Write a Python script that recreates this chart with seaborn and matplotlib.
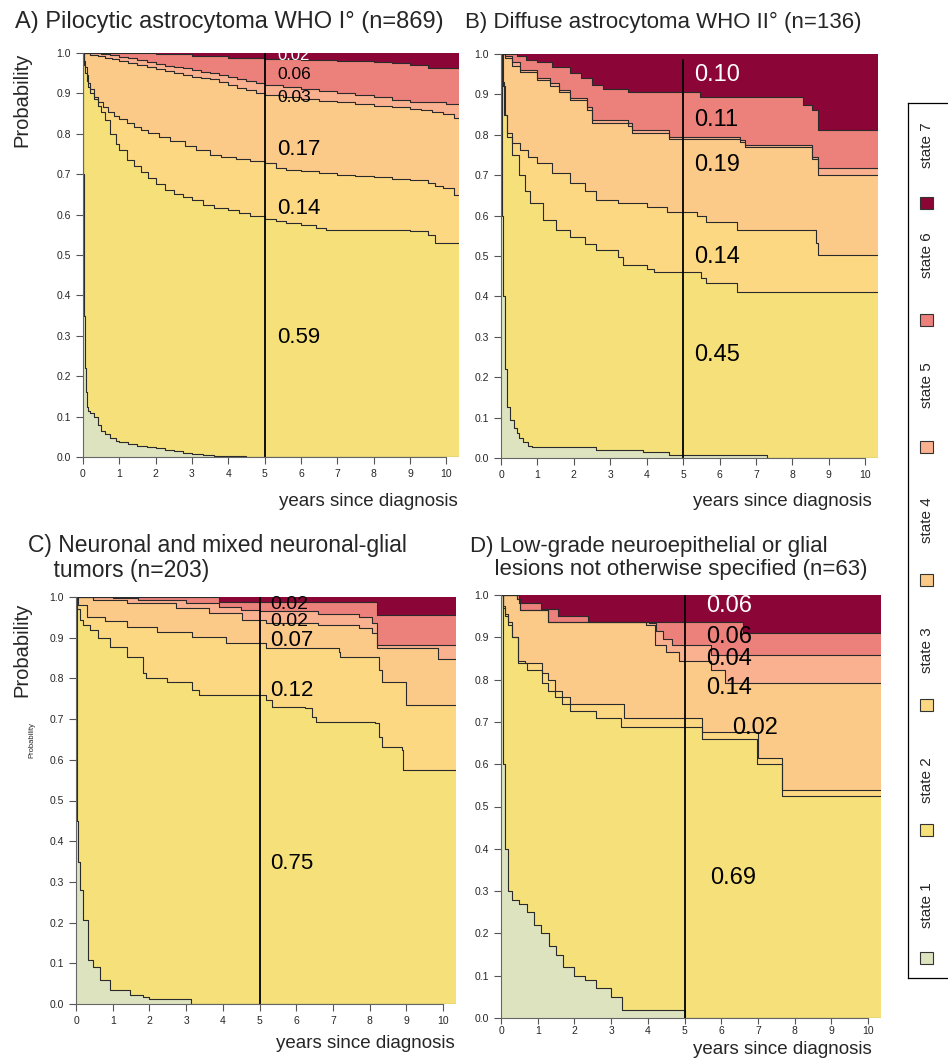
import numpy as np
import matplotlib
matplotlib.use("Agg")
import matplotlib.pyplot as plt
import seaborn as sns
from matplotlib.patches import Rectangle

# cumulative tops of states 1..6 (step functions, value holds until next time)
# panel A: Pilocytic astrocytoma
A_t1 = [0, .01, .02, .03, .05, .07, .1, .15, .2, .3, .4, .5, .6, .75, .9, 1, 1.25, 1.5, 1.75, 2, 2.25, 2.5, 2.75, 3, 3.3, 3.6, 4, 4.5, 5.6]
A_y1 = [1, .7, .5, .35, .22, .16, .125, .115, .108, .098, .08, .065, .056, .048, .04, .037, .032, .028, .025, .022, .018, .014, .011, .008, .005, .003, .002, .001, 0]
A_t2 = [0, .03, .06, .1, .15, .2, .3, .4, .5, .6, .75, .9, 1.0, 1.2, 1.4, 1.6, 1.8, 2.0, 2.25, 2.5, 2.75, 3.0, 3.3, 3.6, 4.0, 4.3, 4.6, 5.0, 5.3, 5.6, 6.0, 6.4, 6.7, 9.0, 9.5, 9.7]
A_y2 = [1, .97, .95, .93, .916, .9, .885, .87, .855, .835, .8, .775, .76, .735, .72, .705, .69, .675, .662, .652, .644, .635, .624, .617, .611, .603, .596, .589, .585, .58, .575, .568, .562, .56, .549, .53]
A_t3 = [0, .03, .06, .1, .14, .2, .3, .4, .55, .7, .85, 1.0, 1.2, 1.4, 1.6, 1.8, 2.1, 2.4, 2.8, 3.1, 3.5, 3.8, 4.2, 4.6, 5.0, 5.3, 5.6, 6.0, 6.5, 7.0, 7.5, 8.0, 8.5, 9.0, 9.5, 9.7, 9.9, 10.2]
A_y3 = [1, .98, .965, .945, .926, .91, .89, .878, .866, .855, .845, .836, .827, .818, .81, .801, .792, .782, .77, .76, .748, .742, .738, .733, .727, .715, .711, .708, .703, .698, .695, .692, .689, .686, .678, .672, .665, .648]
A_t4 = [0, .2, .4, .6, .8, 1, 1.25, 1.5, 1.75, 2, 2.25, 2.5, 2.75, 3, 3.25, 3.5, 3.75, 4, 4.25, 4.5, 4.75, 5, 5.5, 6, 6.5, 7, 7.5, 8, 8.5, 9, 9.3, 9.6, 9.9, 10.2]
A_y4 = [1, .996, .992, .988, .984, .98, .975, .97, .965, .96, .955, .95, .945, .94, .937, .935, .928, .92, .914, .908, .902, .896, .89, .885, .881, .878, .874, .87, .866, .862, .858, .854, .848, .84]
A_t5 = [0, .5, .75, 1, 1.25, 1.5, 1.75, 2, 2.25, 2.5, 2.75, 3, 3.25, 3.5, 3.75, 4, 4.25, 4.5, 4.75, 5, 5.5, 6, 6.5, 7, 7.5, 8, 8.5, 9, 10]
A_y5 = [1, .997, .994, .99, .987, .983, .978, .973, .969, .965, .962, .958, .954, .95, .945, .94, .935, .93, .926, .921, .915, .91, .905, .9, .895, .89, .884, .878, .874]
A_t6 = [0, 1, 2, 3, 4, 5, 6, 7, 8, 8.5, 9, 9.5]
A_y6 = [1, .999, .997, .993, .988, .984, .982, .98, .977, .975, .97, .963]

# panel B: Diffuse astrocytoma
B_t1 = [0, .02, .05, .1, .16, .25, .35, .43, .5, .6, .75, .85, 2.6, 3.9, 4.6, 7.3]
B_y1 = [1, .6, .4, .22, .126, .094, .075, .062, .05, .04, .03, .027, .02, .015, .0075, 0]
B_t2 = [0, .03, .08, .16, .3, .5, .65, .8, 1.15, 1.5, 1.9, 2.3, 2.6, 3.2, 3.35, 4.0, 4.2, 5.5, 5.64, 6.47]
B_y2 = [1, .93, .85, .795, .75, .7, .66, .631, .589, .565, .547, .53, .515, .498, .477, .469, .461, .445, .433, .411]
B_t3 = [0, .05, .1, .16, .3, .52, .75, 1.0, 1.4, 1.9, 2.3, 2.6, 3.2, 4.0, 4.55, 5.37, 5.64, 6.47, 8.55, 8.66, 8.7]
B_y3 = [1, .92, .85, .804, .78, .762, .745, .73, .705, .681, .66, .639, .63, .621, .609, .599, .585, .564, .564, .532, .502]
B_t4 = [0, .1, .3, .52, 1, 1.34, 1.6, 1.9, 2.35, 2.5, 3.5, 3.6, 4.6, 6.55, 6.7, 8.55, 8.7]
B_y4 = [1, .99, .97, .955, .935, .922, .905, .885, .862, .83, .822, .805, .79, .782, .77, .74, .70]
B_t5 = [0, .1, .3, .52, 1, 1.34, 1.6, 1.9, 2.35, 2.5, 3.5, 3.6, 4.6, 6.55, 6.7, 8.55, 8.7]
B_y5 = [1, .995, .98, .96, .94, .928, .91, .891, .869, .837, .829, .812, .795, .787, .775, .745, .718]
B_t6 = [0, .43, .7, 1.0, 1.4, 1.9, 2.2, 2.5, 2.8, 3.5, 5.45, 8.3, 8.55, 8.7]
B_y6 = [1, .995, .985, .98, .968, .953, .94, .923, .913, .906, .894, .874, .861, .812]

# panel C: Neuronal and mixed neuronal-glial tumors
C_t1 = [0, .02, .05, .1, .2, .33, .46, .65, .92, 1.46, 1.82, 2.0, 3.14]
C_y1 = [1, .45, .35, .28, .206, .108, .091, .059, .034, .022, .017, .012, 0]
C_t2 = [0, .03, .1, .2, .38, .6, .92, 1.38, 1.82, 1.92, 2.47, 3.17, 3.36, 5.18, 5.35, 6.25, 6.43, 6.53, 8.15, 8.24, 8.33, 8.87, 8.92]
C_y2 = [1, .97, .943, .93, .919, .9, .877, .853, .813, .8, .791, .771, .759, .747, .73, .727, .705, .693, .69, .656, .631, .624, .575]
C_t3 = [0, .05, .3, .8, 1.38, 2.2, 3.17, 4.08, 5.18, 7.15, 7.2, 8.24, 8.33, 9.0]
C_y3 = [1, .98, .95, .94, .926, .915, .902, .887, .875, .865, .853, .821, .791, .735]
C_t4 = [0, .46, 1.38, 2.73, 3.63, 4.53, 5.18, 6.6, 7.7, 8.05, 8.2, 9.86]
C_y4 = [1, .993, .985, .973, .961, .943, .936, .931, .925, .911, .875, .848]
C_t5 = [0, 1.0, 1.7, 3.0, 3.9, 4.5, 5.0, 6.6, 7.7, 8.05, 8.2]
C_y5 = [1, .998, .993, .985, .975, .968, .965, .958, .95, .935, .882]
C_t6 = [0, 3.9, 8.2]
C_y6 = [1, .988, .956]

# panel D: Low-grade neuroepithelial or glial lesions NOS
D_t1 = [0, .05, .1, .2, .3, .5, .7, .9, 1.1, 1.3, 1.5, 1.7, 2.0, 2.3, 2.6, 3.0, 3.3, 5.0]
D_y1 = [1, .6, .4, .3, .28, .27, .25, .22, .2, .17, .15, .12, .1, .09, .07, .05, .02, 0]
D_t2 = [0, .05, .1, .2, .3, .46, .7, 1.11, 1.27, 1.46, 1.65, 1.87, 2.6, 3.28, 5.47, 6.97, 7.64]
D_y2 = [1, .97, .95, .93, .9, .84, .823, .791, .774, .759, .742, .725, .71, .688, .66, .6, .526]
D_t3 = [0, .05, .1, .2, .3, .46, .65, 1.11, 1.27, 1.46, 1.65, 1.87, 3.36, 5.47, 7.0, 7.64]
D_y3 = [1, .975, .955, .935, .9, .845, .84, .816, .8, .774, .76, .742, .71, .676, .614, .54]
D_t4 = [0, .43, .52, 1.27, 3.95, 4.2, 4.5, 4.85, 5.72, 6.1]
D_y4 = [1, .99, .965, .936, .93, .882, .865, .845, .823, .791]
D_t5 = [0, .43, .52, 1.27, 4.04, 4.22, 4.4, 4.67, 5.72]
D_y5 = [1, .99, .965, .936, .934, .914, .897, .882, .857]
D_t6 = [0, .5, 1.1, 1.55, 2.36, 6.6]
D_y6 = [1, .98, .968, .951, .936, .909]

STATES = ["state 1", "state 2", "state 3", "state 4", "state 5", "state 6", "state 7"]
COLORS = ["#dde2bf", "#f5e07a", "#fcd882", "#fcca88", "#f9b190", "#ec807b", "#8b0637"]

TITLES = ["A) Pilocytic astrocytoma WHO I\u00b0 (n=869)",
          "B) Diffuse astrocytoma WHO II\u00b0 (n=136)",
          "C) Neuronal and mixed neuronal-glial\n    tumors (n=203)",
          "D) Low-grade neuroepithelial or glial\n    lesions not otherwise specified (n=63)"]

# probabilities printed at 5 years (text, x, y, colour, size)
A_LAB = [("0.02", 5.35, .993, "white", 12), ("0.06", 5.35, .946, "black", 12.5), ("0.03", 5.35, .889, "black", 12.5),
         ("0.17", 5.35, .76, "black", 16), ("0.14", 5.35, .614, "black", 16), ("0.59", 5.35, .295, "black", 16)]
B_LAB = [("0.10", 5.3, .948, "white", 17), ("0.11", 5.3, .837, "black", 17), ("0.19", 5.3, .725, "black", 17),
         ("0.14", 5.3, .498, "black", 17), ("0.45", 5.3, .255, "black", 17)]
C_LAB = [("0.02", 5.3, .982, "black", 14), ("0.02", 5.3, .94, "black", 14), ("0.07", 5.3, .894, "black", 16),
         ("0.12", 5.3, .771, "black", 16), ("0.75", 5.3, .346, "black", 16)]
D_LAB = [("0.06", 5.6, .975, "white", 17), ("0.06", 5.6, .9, "black", 17), ("0.04", 5.6, .848, "black", 17),
         ("0.14", 5.6, .78, "black", 17), ("0.02", 6.3, .686, "black", 17), ("0.69", 5.7, .33, "black", 17)]

X_END = 10.35
FONT = ["Liberation Sans", "DejaVu Sans"]

sns.set_style("ticks")
plt.rcParams["font.family"] = FONT


def draw_panel(ax, bounds, labels, vtop=1.0):
    grid = np.array(sorted(set(t for ts, _ in bounds for t in ts) | {X_END}))
    tops = []
    for ts, ys in bounds:
        idx = np.searchsorted(ts, grid, side="right") - 1
        tops.append(np.asarray(ys, dtype=float)[idx])
    lower = np.zeros_like(grid)
    for i, col in enumerate(COLORS):
        upper = tops[i] if i < len(tops) else np.ones_like(grid)
        ax.fill_between(grid, lower, upper, step="post", color=col, lw=0)
        lower = upper
    for top in tops:
        sns.lineplot(x=grid, y=top, drawstyle="steps-post", color="#2a2a2a", lw=0.8, ax=ax)
    ax.plot([5, 5], [0, vtop], color="black", lw=1.3)
    for txt, x, y, c, fs in labels:
        ax.text(x, y, txt, color=c, fontsize=fs, va="center", ha="left")
    ax.set_xlim(0, X_END)
    ax.set_ylim(0, 1)
    ax.set_xticks(range(11))
    ax.set_yticks(np.round(np.arange(0, 1.01, 0.1), 1))
    ax.set_yticklabels([f"{v:.1f}" for v in np.arange(0, 1.01, 0.1)])
    ax.tick_params(labelsize=7.5, length=5, width=0.8, color="#555555")
    for s in ["top", "right"]:
        ax.spines[s].set_visible(False)
    ax.spines["left"].set_bounds(0, 1)
    ax.spines["bottom"].set_bounds(0, 10)
    ax.spines["left"].set_color("#666666")
    ax.spines["bottom"].set_color("#666666")
    ax.set_xlabel("")
    ax.set_ylabel("")


fig = plt.figure(figsize=(9.48, 10.59), dpi=100)
W, H = 948, 1059


def box(l, r, t, b):
    return [l / W, 1 - b / H, (r - l) / W, (b - t) / H]


axA = fig.add_axes(box(83, 459, 53, 457))
axB = fig.add_axes(box(501, 878, 54, 458))
axC = fig.add_axes(box(76, 456, 597, 1004))
axD = fig.add_axes(box(501, 881, 595, 1018))

draw_panel(axA, [(A_t1, A_y1), (A_t2, A_y2), (A_t3, A_y3), (A_t4, A_y4), (A_t5, A_y5), (A_t6, A_y6)], A_LAB)
draw_panel(axB, [(B_t1, B_y1), (B_t2, B_y2), (B_t3, B_y3), (B_t4, B_y4), (B_t5, B_y5), (B_t6, B_y6)], B_LAB, vtop=0.985)
draw_panel(axC, [(C_t1, C_y1), (C_t2, C_y2), (C_t3, C_y3), (C_t4, C_y4), (C_t5, C_y5), (C_t6, C_y6)], C_LAB)
draw_panel(axD, [(D_t1, D_y1), (D_t2, D_y2), (D_t3, D_y3), (D_t4, D_y4), (D_t5, D_y5), (D_t6, D_y6)], D_LAB)
axD.tick_params(axis="x", length=4, pad=2)

fig.text(458 / W, 1 - 501 / H, "years since diagnosis", ha="right", va="center", fontsize=13.5)
fig.text(872 / W, 1 - 501 / H, "years since diagnosis", ha="right", va="center", fontsize=13.5)
fig.text(455 / W, 1 - 1044 / H, "years since diagnosis", ha="right", va="center", fontsize=13.5)
fig.text(872 / W, 1 - 1058 / H, "years since diagnosis", ha="right", va="bottom", fontsize=13.5)

fig.text(15 / W, 1 - 22 / H, TITLES[0], fontsize=17, ha="left", va="center")
fig.text(465 / W, 1 - 22 / H, TITLES[1], fontsize=16, ha="left", va="center")
fig.text(28 / W, 1 - 558 / H, TITLES[2], fontsize=16.5, ha="left", va="center", linespacing=1.1)
fig.text(470 / W, 1 - 558 / H, TITLES[3], fontsize=16, ha="left", va="center", linespacing=1.1)

fig.text(22 / W, 1 - 100 / H, "Probability", rotation=90, fontsize=14.5, ha="center", va="center")
fig.text(22 / W, 1 - 650 / H, "Probability", rotation=90, fontsize=14.5, ha="center", va="center")
fig.text(32 / W, 1 - 740 / H, "Probability", rotation=90, fontsize=5.5, ha="center", va="center")

# legend box on the right, rotated entries
leg = fig.add_axes(box(908, 960, 103, 978))
leg.set_xlim(0, 1)
leg.set_ylim(978, 103)
leg.set_xticks([])
leg.set_yticks([])
for s in leg.spines.values():
    s.set_color("black")
    s.set_linewidth(0.9)
sq_y = [958, 830, 705, 580, 447, 320, 203]
tx_y = [905, 780, 650, 520, 385, 255, 145]
for name, col, sy, ty in zip(STATES, COLORS, sq_y, tx_y):
    leg.add_patch(Rectangle((0.24, sy - 6), 0.24, 12, facecolor=col, edgecolor="#333333", lw=0.8))
    leg.text(0.36, ty, name, rotation=90, fontsize=11, ha="center", va="center")

fig.savefig("out.png", dpi=100)
